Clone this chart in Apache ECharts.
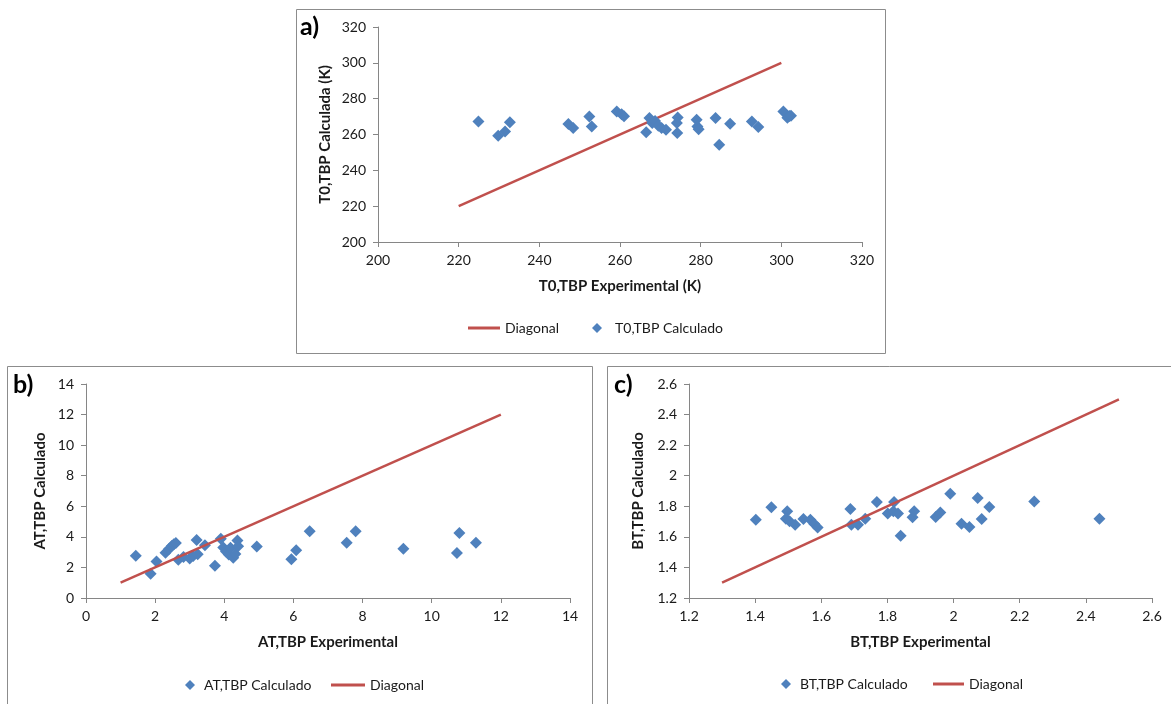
<!DOCTYPE html>
<html>
<head>
<meta charset="utf-8">
<script src="https://cdn.jsdelivr.net/npm/echarts@6/dist/echarts.min.js"></script>
<style>
html,body{margin:0;padding:0;background:#fff;}
#c{width:1171px;height:704px;}
</style>
</head>
<body>
<div id="c"></div>
<script>
// ---- Panel a: T0,TBP ----
const aExp = [224.9,229.8,231.5,232.7,247.2,248.4,252.4,253.0,259.2,260.4,261.0,266.5,267.3,268.0,268.7,269.5,270.3,271.4,274.3,274.1,274.2,279.0,279.2,279.5,283.7,284.6,287.3,292.7,294.3,300.5,301.5,302.0,302.4];
const aCalc = [267.3,259.3,261.7,266.8,265.8,263.6,270.1,264.5,272.9,271.3,270.2,261.2,269.2,266.4,267.5,264.9,263.6,262.7,269.5,266.4,260.8,268.3,264.5,263.0,269.2,254.3,266.0,267.3,264.2,272.9,269.4,270.3,270.5];
const aDiag = [220, 300];

// ---- Panel b: AT,TBP ----
const bExp = [1.44,1.87,2.04,2.30,2.40,2.48,2.54,2.60,2.67,2.82,3.00,3.10,3.20,3.23,3.44,3.73,3.90,3.97,4.05,4.13,4.18,4.26,4.32,4.38,4.40,4.94,5.94,6.08,6.47,7.54,7.80,9.18,10.73,10.80,11.28];
const bCalc = [2.77,1.58,2.39,2.96,3.20,3.40,3.52,3.60,2.50,2.68,2.58,2.75,3.80,2.86,3.45,2.11,3.87,3.30,3.05,2.85,3.28,2.64,2.88,3.76,3.38,3.37,2.53,3.12,4.36,3.62,4.36,3.23,2.94,4.25,3.62];
const bDiag = [1, 12];

// ---- Panel c: BT,TBP ----
const cExp = [1.402,1.449,1.497,1.493,1.504,1.521,1.546,1.567,1.579,1.589,1.688,1.691,1.711,1.733,1.768,1.801,1.818,1.820,1.832,1.840,1.876,1.881,1.946,1.960,1.990,2.024,2.048,2.073,2.085,2.108,2.244,2.441];
const cCalc = [1.712,1.793,1.767,1.719,1.702,1.680,1.717,1.712,1.684,1.662,1.782,1.680,1.680,1.719,1.828,1.752,1.767,1.828,1.752,1.608,1.728,1.767,1.730,1.760,1.882,1.686,1.664,1.854,1.717,1.795,1.832,1.719];
const cDiag = [1.3, 2.5];

const xTicksA = [200, 320, 20], xTicksB = [0, 14, 2], xTicksC = [1.2, 2.6, 0.2];

const BLUE = '#4F81BD', RED = '#C0504D', AXIS = '#868686', TXT = '#1a1a1a';
const FONT = 'Lato, "Open Sans", sans-serif';

function pairs(xs, ys){ return xs.map((x,i)=>[x, ys[i]]); }

function axis(idx, range, name, gap, isY){
  return {
    gridIndex: idx, type: 'value', min: range[0], max: range[1], interval: range[2],
    name: name, nameLocation: 'middle', nameGap: gap,
    nameTextStyle: {fontFamily: FONT, fontWeight: 'bold', fontSize: 15, color: TXT},
    axisLine: {show: true, onZero: false, lineStyle: {color: AXIS, width: 1}},
    axisTick: {show: true, inside: false, length: 5, lineStyle: {color: AXIS}},
    axisLabel: {fontFamily: FONT, fontSize: 14, color: TXT, margin: isY ? 12 : 11},
    splitLine: {show: false}
  };
}

const chart = echarts.init(document.getElementById('c'), null, {renderer: 'canvas'});

const legendText = {fontFamily: FONT, fontSize: 14, color: TXT};
const padText = (p) => Object.assign({padding: [0,0,0,p]}, legendText);

chart.setOption({
  animation: false,
  backgroundColor: '#fff',
  graphic: [
    {type: 'rect', shape: {x: 296.5, y: 9.5, width: 589, height: 344}, style: {fill: 'none', stroke: '#8c8c8c', lineWidth: 1}, z: -1},
    {type: 'rect', shape: {x: 7.5, y: 366.5, width: 585, height: 345}, style: {fill: 'none', stroke: '#8c8c8c', lineWidth: 1}, z: -1},
    {type: 'rect', shape: {x: 607.5, y: 366.5, width: 580, height: 345}, style: {fill: 'none', stroke: '#8c8c8c', lineWidth: 1}, z: -1},
    {type: 'text', left: 300, top: 14, style: {text: 'a)', font: 'bold 25px ' + FONT, fill: '#000'}},
    {type: 'text', left: 13, top: 372, style: {text: 'b)', font: 'bold 25px ' + FONT, fill: '#000'}},
    {type: 'text', left: 614, top: 372, style: {text: 'c)', font: 'bold 25px ' + FONT, fill: '#000'}}
  ],
  grid: [
    {left: 378, top: 27, width: 484, height: 215},
    {left: 86, top: 384, width: 484, height: 214},
    {left: 689, top: 384, width: 463, height: 214}
  ],
  xAxis: [
    axis(0, xTicksA, 'T0,TBP Experimental (K)', 37, false),
    axis(1, xTicksB, 'AT,TBP Experimental', 37, false),
    axis(2, xTicksC, 'BT,TBP Experimental', 37, false)
  ],
  yAxis: [
    axis(0, xTicksA, 'T0,TBP Calculada (K)', 45, true),
    axis(1, xTicksB, 'AT,TBP Calculado', 38, true),
    axis(2, xTicksC, 'BT,TBP Calculado', 43, true)
  ],
  legend: [
    {data: [{name: 'Diagonal', icon: 'rect'}], left: 468, top: 321, padding: 0, itemWidth: 32, itemHeight: 3, textStyle: legendText, selectedMode: false},
    {data: ['T0,TBP Calculado'], left: 592, top: 321, padding: 0, itemWidth: 10, itemHeight: 10, textStyle: padText(8), selectedMode: false},
    {data: ['AT,TBP Calculado'], left: 185, top: 678, padding: 0, itemWidth: 10, itemHeight: 10, textStyle: padText(4), selectedMode: false},
    {data: [{name: 'Diagonal', icon: 'rect'}], left: 331, top: 678, padding: 0, itemWidth: 34, itemHeight: 3, textStyle: legendText, selectedMode: false},
    {data: ['BT,TBP Calculado'], left: 781, top: 677, padding: 0, itemWidth: 10, itemHeight: 10, textStyle: padText(4), selectedMode: false},
    {data: [{name: 'Diagonal', icon: 'rect'}], left: 933, top: 677, padding: 0, itemWidth: 31, itemHeight: 3, textStyle: legendText, selectedMode: false}
  ],
  series: [
    {name: 'Diagonal', type: 'line', xAxisIndex: 0, yAxisIndex: 0, data: pairs(aDiag, aDiag), symbol: 'none', lineStyle: {color: RED, width: 2.5}, itemStyle: {color: RED}, z: 2},
    {name: 'T0,TBP Calculado', type: 'scatter', xAxisIndex: 0, yAxisIndex: 0, data: pairs(aExp, aCalc), symbol: 'diamond', symbolSize: 12, itemStyle: {color: BLUE, opacity: 1}, z: 3},
    {name: 'AT,TBP Calculado', type: 'scatter', xAxisIndex: 1, yAxisIndex: 1, data: pairs(bExp, bCalc), symbol: 'diamond', symbolSize: 12, itemStyle: {color: BLUE, opacity: 1}, z: 2},
    {name: 'Diagonal', type: 'line', xAxisIndex: 1, yAxisIndex: 1, data: pairs(bDiag, bDiag), symbol: 'none', lineStyle: {color: RED, width: 2.5}, itemStyle: {color: RED}, z: 3},
    {name: 'BT,TBP Calculado', type: 'scatter', xAxisIndex: 2, yAxisIndex: 2, data: pairs(cExp, cCalc), symbol: 'diamond', symbolSize: 12, itemStyle: {color: BLUE, opacity: 1}, z: 2},
    {name: 'Diagonal', type: 'line', xAxisIndex: 2, yAxisIndex: 2, data: pairs(cDiag, cDiag), symbol: 'none', lineStyle: {color: RED, width: 2.5}, itemStyle: {color: RED}, z: 3}
  ]
});
</script>
</body>
</html>
